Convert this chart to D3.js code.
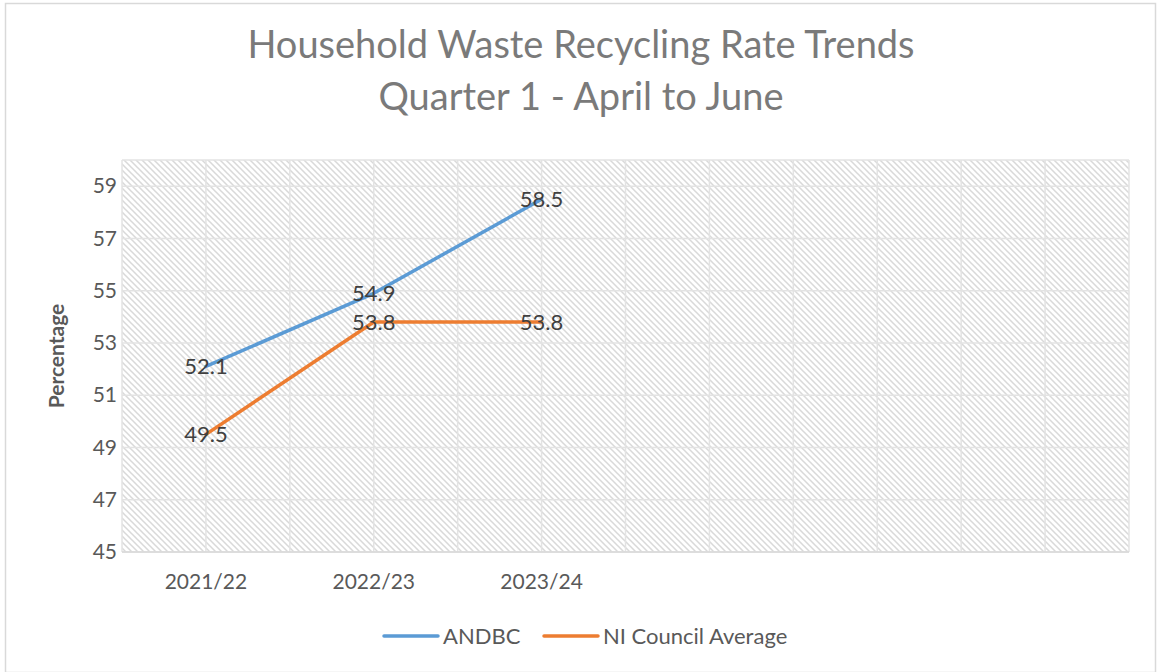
<!DOCTYPE html>
<html>
<head>
<meta charset="utf-8">
<script src="https://cdnjs.cloudflare.com/ajax/libs/d3/7.8.5/d3.min.js"></script>
<style>
  html, body { margin: 0; padding: 0; background: #fff; }
  svg { display: block; font-family: Lato, "Open Sans", sans-serif; }
</style>
</head>
<body>
<script>
// chart data
var categories = ["2021/22", "2022/23", "2023/24", "", "", ""];
var andbc = [52.1, 54.9, 58.5];
var niAverage = [49.5, 53.8, 53.8];
var yTicks = [45, 47, 49, 51, 53, 55, 57, 59];
var titleLines = ["Household Waste Recycling Rate Trends", "Quarter 1 - April to June"];

var series = [
  { name: "ANDBC", values: andbc, color: "#5b9bd5" },
  { name: "NI Council Average", values: niAverage, color: "#ed7d31" }
];

var width = 1157, height = 672;
var plot = { left: 122, right: 1129, top: 160, bottom: 552 };

var svg = d3.select("body").append("svg")
    .attr("width", width)
    .attr("height", height);

// outer chart border
svg.append("rect")
    .attr("x", 5.5).attr("y", 3.5)
    .attr("width", width - 7).attr("height", height - 3)
    .attr("fill", "#fff")
    .attr("stroke", "#d9d9d9")
    .attr("stroke-width", 1.5);

// hatch fill for the plot area
var pat = svg.append("defs").append("pattern")
    .attr("id", "hatch")
    .attr("patternUnits", "userSpaceOnUse")
    .attr("width", 6).attr("height", 6);
pat.append("rect").attr("width", 6).attr("height", 6).attr("fill", "#fff");
pat.append("path")
    .attr("d", "M-1,-1 L7,7 M-1,5 L1,7 M5,-1 L7,1")
    .attr("stroke", "#d9d9d9")
    .attr("stroke-width", 1.5);

var x = d3.scaleBand()
    .domain(d3.range(categories.length))
    .range([plot.left, plot.right]);

var y = d3.scaleLinear()
    .domain([45, 60])
    .range([plot.bottom, plot.top]);

svg.append("rect")
    .attr("x", plot.left).attr("y", plot.top)
    .attr("width", plot.right - plot.left)
    .attr("height", plot.bottom - plot.top)
    .attr("fill", "url(#hatch)");

// gridlines: horizontal on y ticks, vertical at band edges and centres
var grid = svg.append("g")
    .attr("stroke", "#e3e3e3")
    .attr("stroke-width", 1.5);

grid.selectAll("line.h")
    .data(yTicks.concat([60]))
  .enter().append("line")
    .attr("class", "h")
    .attr("x1", plot.left).attr("x2", plot.right)
    .attr("y1", function(d) { return y(d); })
    .attr("y2", function(d) { return y(d); });

var vx = [];
categories.forEach(function(c, i) {
  vx.push(x(i));
  vx.push(x(i) + x.bandwidth() / 2);
});
vx.push(plot.right);

grid.selectAll("line.v")
    .data(vx)
  .enter().append("line")
    .attr("class", "v")
    .attr("y1", plot.top).attr("y2", plot.bottom)
    .attr("x1", function(d) { return d; })
    .attr("x2", function(d) { return d; });

// axis baseline
svg.append("line")
    .attr("x1", plot.left).attr("x2", plot.right)
    .attr("y1", plot.bottom).attr("y2", plot.bottom)
    .attr("stroke", "#d9d9d9")
    .attr("stroke-width", 1.5);

// y axis
var yAxis = svg.append("g")
    .attr("transform", "translate(" + plot.left + ",0)")
    .call(d3.axisLeft(y).tickValues(yTicks).tickSize(0).tickPadding(5));
yAxis.select(".domain").remove();
yAxis.selectAll("text")
    .attr("fill", "#595959")
    .attr("x", -5)
    .attr("text-anchor", "end")
    .style("font-size", "21px")
    .style("font-family", "Lato, sans-serif");

// x axis
var xAxis = svg.append("g")
    .attr("transform", "translate(0," + plot.bottom + ")")
    .call(d3.axisBottom(x).tickFormat(function(i) { return categories[i]; }).tickSize(0).tickPadding(22));
xAxis.select(".domain").remove();
xAxis.selectAll("text")
    .attr("fill", "#595959")
    .style("font-size", "21px")
    .style("font-family", "Lato, sans-serif");

// y axis title
svg.append("text")
    .attr("transform", "translate(64," + ((plot.top + plot.bottom) / 2) + ") rotate(-90)")
    .attr("text-anchor", "middle")
    .attr("fill", "#595959")
    .style("font-size", "21px")
    .style("font-weight", "bold")
    .text("Percentage");

// chart title
svg.append("g").selectAll("text")
    .data(titleLines)
  .enter().append("text")
    .attr("x", 581)
    .attr("y", function(d, i) { return 58 + i * 52; })
    .attr("text-anchor", "middle")
    .attr("fill", "#7a7a7a")
    .style("font-size", "38px")
    .style("font-weight", 400)
    .text(function(d) { return d; });

// lines
var cx = function(i) { return x(i) + x.bandwidth() / 2; };
var line = d3.line()
    .x(function(d, i) { return cx(i); })
    .y(function(d) { return y(d); });

svg.append("g").selectAll("path")
    .data(series)
  .enter().append("path")
    .attr("d", function(s) { return line(s.values); })
    .attr("fill", "none")
    .attr("stroke", function(s) { return s.color; })
    .attr("stroke-width", 3.5)
    .attr("stroke-linecap", "round")
    .attr("stroke-linejoin", "round");

// value labels, centred on the points
series.forEach(function(s) {
  svg.append("g").selectAll("text")
      .data(s.values)
    .enter().append("text")
      .attr("x", function(d, i) { return cx(i); })
      .attr("y", function(d) { return y(d); })
      .attr("dy", "0.35em")
      .attr("text-anchor", "middle")
      .attr("fill", "#404040")
      .style("font-size", "22px")
      .text(function(d) { return d.toFixed(1); });
});

// legend
var legend = svg.append("g").attr("transform", "translate(0,636)");
var legendX = [384, 544];
series.forEach(function(s, i) {
  legend.append("line")
      .attr("x1", legendX[i]).attr("x2", legendX[i] + 54)
      .attr("stroke", s.color)
      .attr("stroke-width", 3.5)
      .attr("stroke-linecap", "round");
  legend.append("text")
      .attr("x", legendX[i] + 59)
      .attr("dy", "0.35em")
      .attr("fill", "#595959")
      .style("font-size", "22px")
      .text(s.name);
});
</script>
</body>
</html>
